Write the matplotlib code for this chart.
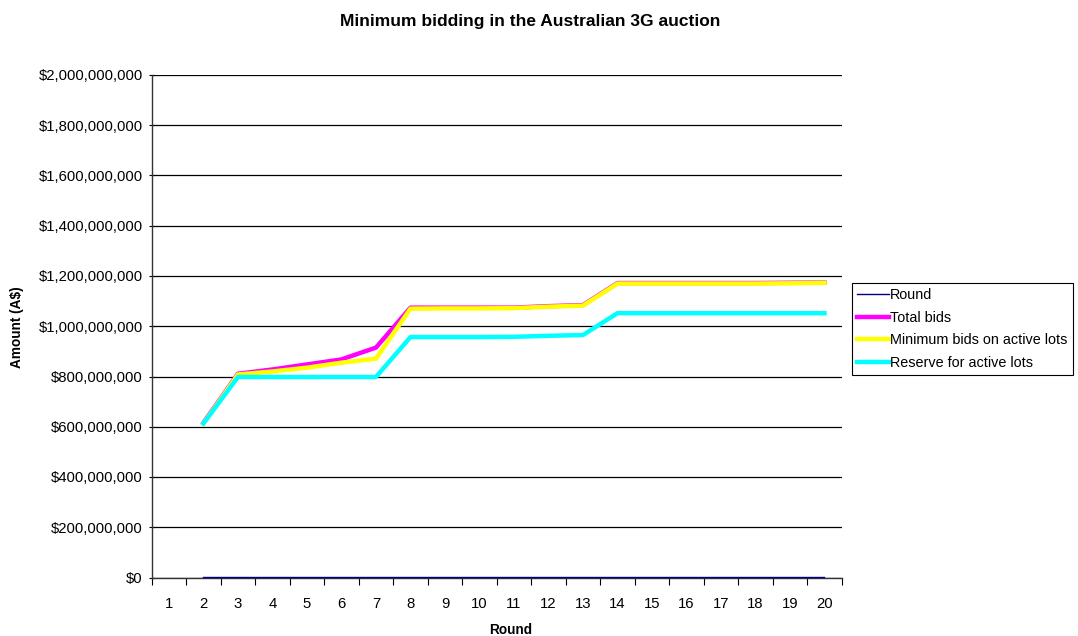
import numpy as np
import matplotlib
matplotlib.use('Agg')
import matplotlib.pyplot as plt
from matplotlib.ticker import FuncFormatter, MultipleLocator

plt.rcParams['font.family'] = ['Liberation Sans', 'DejaVu Sans']

# data (rounds 2..20)
rounds = list(range(2, 21))
round_series = rounds
total_bids = [616e6, 811e6, 828e6, 848e6, 868e6, 915e6, 1074e6, 1074e6, 1074e6, 1074e6,
              1080e6, 1084e6, 1172e6, 1172e6, 1172e6, 1172e6, 1172e6, 1173e6, 1174e6]
min_bids = [613e6, 808e6, 820e6, 835e6, 855e6, 871e6, 1070e6, 1071e6, 1071e6, 1072e6,
            1078e6, 1082e6, 1170e6, 1170e6, 1170e6, 1170e6, 1170e6, 1171e6, 1173e6]
reserve = [613e6, 798e6, 798e6, 798e6, 798e6, 798e6, 957e6, 957e6, 957e6, 958e6,
           962e6, 965e6, 1052e6, 1052e6, 1052e6, 1052e6, 1052e6, 1052e6, 1052e6]
categories = list(range(1, 21))

W, H = 1078, 636
fig = plt.figure(figsize=(W / 100, H / 100), dpi=100)
ax = fig.add_axes([151.7 / W, (H - 577.5) / H, 690 / W, 502.5 / H])

ax.plot(rounds, round_series, color='#000080', lw=1.0, label='Round', zorder=5, clip_on=False)
ax.plot(rounds, total_bids, color='#FF00FF', lw=3.2, label='Total bids', solid_joinstyle='round')
ax.plot(rounds, min_bids, color='#FFFF00', lw=3.2, label='Minimum bids on active lots', solid_joinstyle='round')
ax.plot(rounds, reserve, color='#00FFFF', lw=3.2, label='Reserve for active lots', solid_joinstyle='round')

ax.set_xlim(0.5, 20.5)
ax.set_ylim(0, 2e9)
ax.set_xticks(categories)
ax.set_xticks(np.arange(0.5, 21, 1), minor=True)
ax.tick_params(axis='x', which='major', length=0, labelsize=10.7, pad=14)
ax.tick_params(axis='x', which='minor', length=5, direction='out', width=0.8)
ax.yaxis.set_major_locator(MultipleLocator(2e8))
ax.yaxis.set_major_formatter(FuncFormatter(lambda v, p: '${:,.0f}'.format(v)))
ax.tick_params(axis='y', length=5, direction='inout', width=0.8, labelsize=10.7, pad=4)

ax.grid(axis='y', color='black', lw=0.9)
ax.set_axisbelow(True)
for s in ['top', 'right']:
    ax.spines[s].set_visible(False)
for s in ['left', 'bottom']:
    ax.spines[s].set_color('#333333')
    ax.spines[s].set_linewidth(1.0)

ax.set_xlabel('Round', fontsize=9.8, fontweight='bold')
ax.xaxis.set_label_coords((511 - 151.7) / 690, -(630 - 577.5) / 502.5)
ax.xaxis.label.set_va('center')
ax.set_ylabel('Amount (A$)', fontsize=9.8, fontweight='bold')
ax.yaxis.set_label_coords(-(151.7 - 17) / 690, (577.5 - 327) / 502.5)
ax.yaxis.label.set_va('center')
fig.text(530 / W, 1 - 21.5 / H, 'Minimum bidding in the Australian 3G auction',
         ha='center', va='center', fontsize=12.5, fontweight='bold')

leg = ax.legend(loc='upper left', bbox_to_anchor=(852 / W, 1 - 283 / H),
                bbox_transform=fig.transFigure, frameon=True, fancybox=False,
                edgecolor='black', framealpha=1, fontsize=10.4, handlelength=2.2,
                handletextpad=0.1, labelspacing=0.6, borderpad=0.35, borderaxespad=0)
leg.get_frame().set_linewidth(0.8)

fig.savefig('out.png', dpi=100)
